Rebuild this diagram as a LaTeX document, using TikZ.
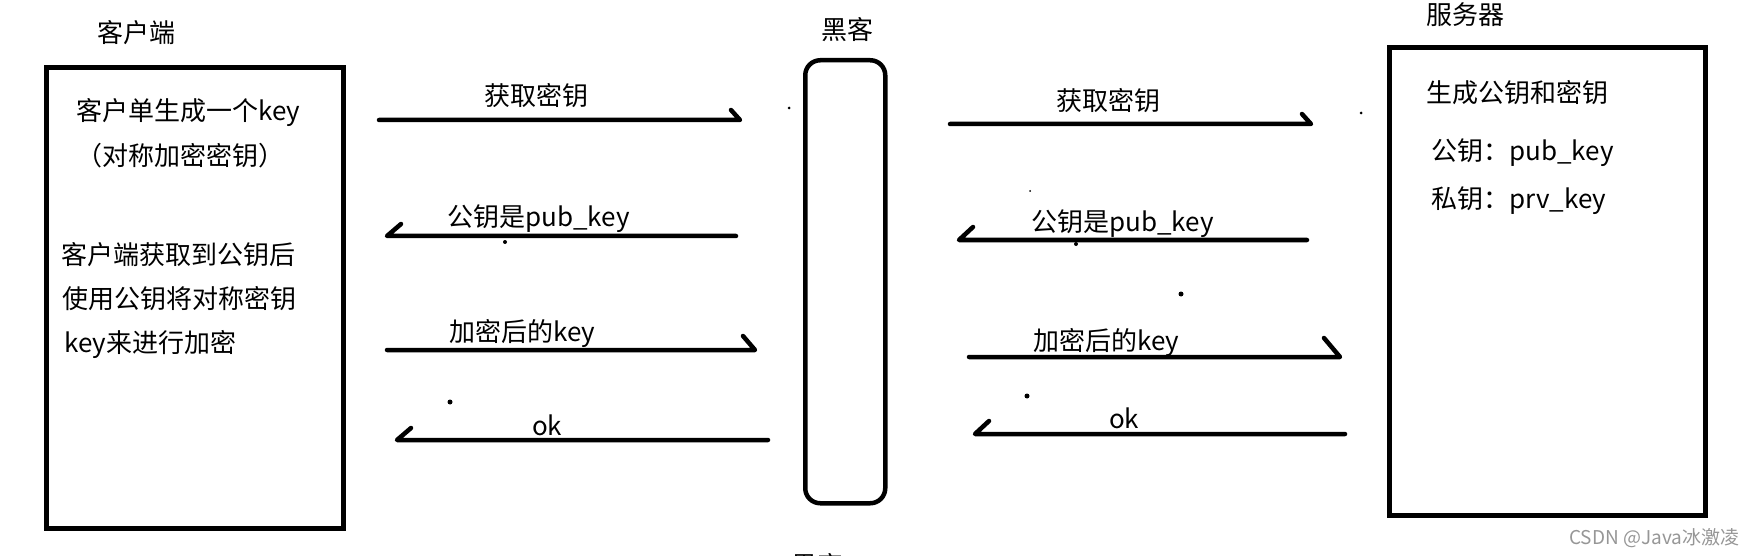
\documentclass[tikz,border=0pt]{standalone}
\usepackage{fontspec}
\setmainfont{Noto Sans CJK SC}
\definecolor{wm}{RGB}{150,150,150}
\tikzset{
  txt/.style={inner sep=0pt, anchor=base west, font=\fontsize{26}{30}\selectfont},
  boxline/.style={draw=black, line width=5pt, inner sep=0pt, anchor=north west},
  hackbox/.style={draw=black, line width=4.5pt, rounded corners=15pt, inner sep=0pt, anchor=north west},
  msg/.style={line width=4.5pt, line cap=round, line join=round},
  speck/.style={fill=black},
}
\begin{document}
\begin{tikzpicture}[x=1pt,y=-1pt]
\useasboundingbox (0,0) rectangle (1748,556);
\begin{scope}
\clip (0,0) rectangle (1748,556);

% boxes
\node[boxline, minimum width=297pt, minimum height=460pt] (client) at (43.5,65.5) {};
\node[hackbox, minimum width=80pt, minimum height=443pt] (hacker) at (803,58) {};
\node[boxline, minimum width=316pt, minimum height=467pt] (server) at (1387,45.5) {};

% titles
\node[txt] (tclient) at (97,43) {客户端};
\node[txt] (thacker) at (821,40) {黑客};
\node[txt] (tserver) at (1426,25) {服务器};
\node[txt] (thacker2) at (791,575) {黑客};

% client texts
\node[txt] (c1) at (76,121) {客户单生成一个key};
\node[txt] (c2) at (76,166) {（对称加密密钥）};
\node[txt] (c3) at (61,265) {客户端获取到公钥后};
\node[txt] (c4) at (62,308) {使用公钥将对称密钥};
\node[txt] (c5) at (64,352) {key来进行加密};

% server texts
\node[txt] (s1) at (1426,103) {生成公钥和密钥};
\node[txt] (s2) at (1431,161) {公钥：pub\_key};
\node[txt] (s3) at (1431,208) {私钥：prv\_key};

% arrow end points
\coordinate (a1s) at (379,120);  \coordinate (a1e) at (740,120);
\coordinate (a2s) at (736,236);  \coordinate (a2e) at (387,236);
\coordinate (a3s) at (387,350);  \coordinate (a3e) at (755,350);
\coordinate (a4s) at (768,440);  \coordinate (a4e) at (397,440);
\coordinate (b1s) at (950,124);  \coordinate (b1e) at (1311,124);
\coordinate (b2s) at (1307,240); \coordinate (b2e) at (959,240);
\coordinate (b3s) at (969,357);  \coordinate (b3e) at (1340,357);
\coordinate (b4s) at (1345,434); \coordinate (b4e) at (975,434);

\draw[msg] (a1s) -- (a1e) -- ++(-9,-10);
\draw[msg] (a2s) -- (a2e) -- ++(14,-12);
\draw[msg] (a3s) -- (a3e) -- ++(-12,-14);
\draw[msg] (a4s) -- (a4e) -- ++(14,-12);
\draw[msg] (b1s) -- (b1e) -- ++(-9,-10);
\draw[msg] (b2s) -- (b2e) -- ++(14,-13);
\draw[msg] (b3s) -- (b3e) -- ++(-16,-19);
\draw[msg] (b4s) -- (b4e) -- ++(14,-13);

% arrow labels
\node[txt] (l1) at (484,106) {获取密钥};
\node[txt] (l2) at (447,226) {公钥是pub\_key};
\node[txt] (l3) at (449,341) {加密后的key};
\node[txt] (l4) at (532,435) {ok};
\node[txt] (r1) at (1056,111) {获取密钥};
\node[txt] (r2) at (1031,232) {公钥是pub\_key};
\node[txt] (r3) at (1033,350) {加密后的key};
\node[txt] (r4) at (1109,428) {ok};

% stray specks
\fill[speck] (789,108) circle (1.5pt);
\fill[speck] (505,242) circle (2pt);
\fill[speck] (450,402) circle (2.5pt);
\fill[speck] (1361,113) circle (1.5pt);
\fill[speck] (1030,191) circle (1pt);
\fill[speck] (1076,244) circle (2pt);
\fill[speck] (1181,294) circle (2.5pt);
\fill[speck] (1027,396) circle (2.5pt);

% watermark
\node[txt, font=\fontsize{19}{22}\selectfont, text=wm] (wmark) at (1569,544) {CSDN @Java冰激凌};
\end{scope}
\end{tikzpicture}
\end{document}
